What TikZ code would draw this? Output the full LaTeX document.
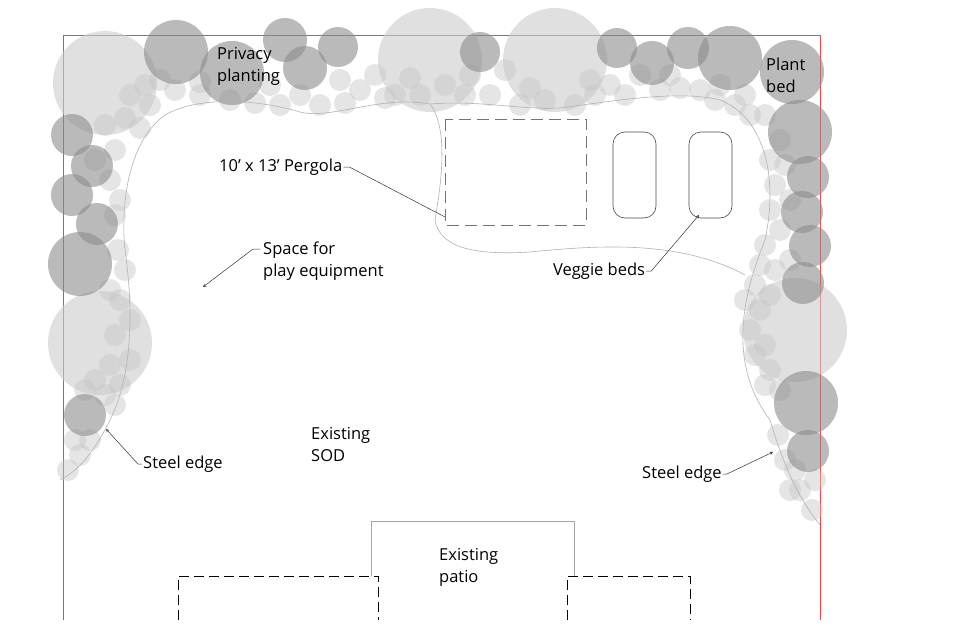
\documentclass[tikz,border=0pt]{standalone}
\usepackage{fontspec}
\setmainfont{Open Sans}
\begin{document}
\begin{tikzpicture}[x=1pt,y=-1pt,
  lite/.style={fill=gray!40,fill opacity=0.6,draw=none},
  dark/.style={fill=black!45,fill opacity=0.6,draw=none},
  sm/.style={fill=gray!45,fill opacity=0.45,draw=none},
  lbl/.style={font=\fontsize{16.5}{22}\selectfont,align=left,inner sep=1pt},
  lead/.style={draw=black!80,line width=0.5pt},
  edge/.style={draw=gray!60,line width=0.6pt}]
\useasboundingbox (0,0) rectangle (980,634);
\fill[white] (0,0) rectangle (980,634);
% property line
\draw[red!75,line width=0.9pt] (63,620) -- (63,35) -- (820,35) -- (820,620);
% large light
\foreach \x/\y/\r in {105/83/52,430/60/52,555/60/52,100/343/52,795/330/52}
  \fill[lite] (\x,\y) circle (\r);
% small plants
\foreach \x/\y in {
 130/95,150/105,125/118,105/125,145/85,175/90,200/95,230/100,255/103,280/105,300/95,320/105,345/103,
 360/90,375/75,395/95,420/95,445/85,465/95,490/95,505/70,520/105,545/100,575/105,595/95,610/85,625/95,
 640/75,660/90,680/88,700/90,715/100,735/105,750/115,745/95,765/115,780/140,770/160,785/165,
 775/185,790/200,770/210,780/230,765/245,790/260,775/270,760/265,755/285,770/295,745/300,760/310,
 750/330,765/345,755/355,770/370,765/385,780/390,778/435,785/460,795/470,800/490,790/490,812/510,815/480,
 115/150,95/160,110/180,120/200,115/215,118/250,125/270,110/290,120/300,130/320,115/335,130/360,
 110/365,95/380,120/385,105/395,85/390,115/405,75/440,90/440,80/455,68/470,
 160/80,270/85,340/80,385/98,470/75,530/88,590/80,670/75,720/85,140/128,200/82,410/78}
  \fill[sm] (\x,\y) circle (11);
% dark
\foreach \x/\y/\r in {176/52/32,232/73/32,285/40/22,305/68/22,338/47/20,480/52/20,617/48/20,652/63/22,
 688/48/21,730/58/32,792/72/32,800/132/32,808/177/21,802/212/21,810/246/21,803/283/21,
 72/135/21,92/166/21,72/195/21,97/224/21,80/264/32,85/415/21,806/403/32,808/451/21}
  \fill[dark] (\x,\y) circle (\r);
% planting bed edges
\draw[edge] (430,104) .. controls (380,95) and (330,120) .. (300,112) .. controls (260,100) and (200,95) .. (165,115)
  .. controls (130,140) and (120,200) .. (125,250) .. controls (135,320) and (130,380) .. (110,420) .. controls (95,450) and (80,470) .. (60,480);
\draw[edge] (430,104) .. controls (450,130) and (440,190) .. (435,220) .. controls (440,250) and (480,255) .. (530,252)
  .. controls (600,245) and (680,240) .. (745,275);
\draw[edge] (430,104) .. controls (480,100) and (520,110) .. (560,108) .. controls (620,100) and (680,90) .. (720,100)
  .. controls (760,115) and (780,170) .. (765,240) .. controls (745,290) and (725,360) .. (770,420) .. controls (785,470) and (800,500) .. (820,525);
% pergola, beds
\draw[gray!90!black,dash pattern=on 12pt off 6pt,line width=0.8pt] (445,119) rectangle (586,225);
\draw[black!70,line width=0.6pt,rounded corners=12pt] (613,132) rectangle (656,218);
\draw[black!70,line width=0.6pt,rounded corners=12pt] (689,132) rectangle (732,218);
% patio
\draw[gray!70,line width=0.7pt] (371,576) -- (371,521) -- (574,521) -- (574,576);
\draw[black,line width=1pt,dash pattern=on 10pt off 5pt] (178,620) -- (178,576) -- (378,576) -- (378,620);
\draw[black,line width=1pt,dash pattern=on 10pt off 5pt] (567,620) -- (567,576) -- (690,576) -- (690,620);
% labels
\node[lbl,anchor=west] (pp) at (216,66) {Privacy\\planting};
\node[lbl,anchor=west] (pb) at (765,75) {Plant\\bed};
\node[lbl,anchor=west] (pg) at (218,167) {10' x 13' Pergola};
\coordinate (pgE) at (445,217);
\draw[lead] (pg.east) -- ++(6,0) -- (pgE);
\node[lbl,anchor=west] (sp) at (262,261) {Space for\\play equipment};
\coordinate (spE) at (203,287);
\draw[lead,-stealth] (260,249) -- (253,249) -- (spE);
\node[lbl,anchor=west] (vb) at (552,271) {Veggie beds};
\coordinate (vbE) at (699,215);
\draw[lead,-stealth] (vb.east) -- ++(5,0) -- (vbE);
\node[lbl,anchor=west] (sod) at (310,445) {Existing\\SOD};
\node[lbl,anchor=west] (se1) at (142,464) {Steel edge};
\coordinate (se1E) at (106,429);
\draw[lead,-stealth] (se1.west) -- ++(-4,0) -- (se1E);
\node[lbl,anchor=west] (se2) at (641,474) {Steel edge};
\coordinate (se2E) at (773,452);
\draw[lead,-stealth] (se2.east) -- ++(4,0) -- (se2E);
\node[lbl,anchor=west] (pt) at (438,567) {Existing\\patio};
\end{tikzpicture}
\end{document}
